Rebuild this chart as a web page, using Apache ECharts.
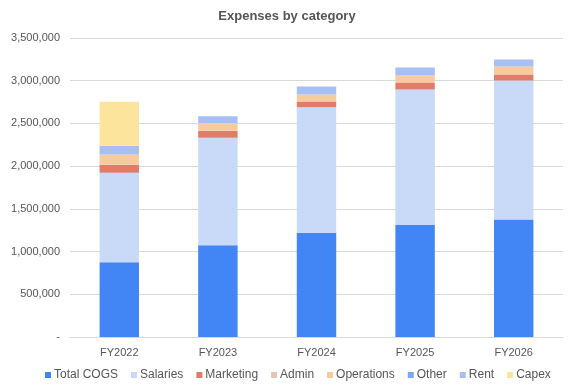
<!DOCTYPE html>
<html><head><meta charset="utf-8">
<script src="https://cdn.jsdelivr.net/npm/echarts@6/dist/echarts.min.js"></script>
<style>html,body{margin:0;padding:0;background:#fff}#c{width:574px;height:390px}</style>
</head><body><div id="c"></div>
<script>
const categories = ['FY2022','FY2023','FY2024','FY2025','FY2026'];
const totalCogs  = [875000, 1075000, 1220000, 1315000, 1375000];
const salaries   = [1047000, 1258000, 1468000, 1583000, 1628000];
const marketing  = [93000, 77000, 70000, 82000, 71000];
const admin      = [4000, 3000, 3000, 3000, 3000];
const operations = [116000, 91000, 79000, 79000, 90000];
const other      = [0, 0, 0, 0, 0];
const rent       = [105000, 81000, 93000, 94000, 82000];
const capex      = [513000, 0, 0, 0, 0];
const yTicks = [0, 500000, 1000000, 1500000, 2000000, 2500000, 3000000, 3500000];

const seriesDefs = [
  ['Total COGS', totalCogs, '#4285F4'],
  ['Salaries', salaries, '#C9DAF8'],
  ['Marketing', marketing, '#E07C6A'],
  ['Admin', admin, '#E3C7B3'],
  ['Operations', operations, '#F9CB9C'],
  ['Other', other, '#7FA6F0'],
  ['Rent', rent, '#A8BFF6'],
  ['Capex', capex, '#FCE49C']
];

const chart = echarts.init(document.getElementById('c'));
chart.setOption({
  animation: false,
  title: { text: 'Expenses by category', left: 'center', top: 5,
    textStyle: { fontFamily: 'Liberation Sans, Arial', fontSize: 13, fontWeight: 'bold', color: '#555' } },
  legend: { bottom: 4, left: 40, itemWidth: 6, itemHeight: 6, itemGap: 13, icon: 'rect',
    textStyle: { fontFamily: 'Liberation Sans, Arial', fontSize: 12, color: '#555', padding: [0, 0, 0, -2] },
    data: seriesDefs.map(s => s[0]) },
  grid: { left: 70, right: 11, top: 38, bottom: 53, containLabel: false },
  xAxis: { type: 'category', data: categories,
    axisLine: { show: true, lineStyle: { color: '#d9d9d9' } }, axisTick: { show: false },
    axisLabel: { fontFamily: 'Liberation Sans, Arial', fontSize: 11, color: '#555', margin: 10 } },
  yAxis: { type: 'value', min: yTicks[0], max: yTicks[yTicks.length-1], interval: 500000,
    axisLine: { show: false }, axisTick: { show: false },
    splitLine: { lineStyle: { color: '#d9d9d9' } },
    axisLabel: { fontFamily: 'Liberation Sans, Arial', fontSize: 11, color: '#555', margin: 10,
      formatter: v => v === 0 ? '-' : v.toLocaleString('en-US') } },
  series: seriesDefs.map(s => ({
    name: s[0], type: 'bar', stack: 'total', data: s[1], barWidth: '40%',
    itemStyle: { color: s[2] }
  }))
});
</script></body></html>
